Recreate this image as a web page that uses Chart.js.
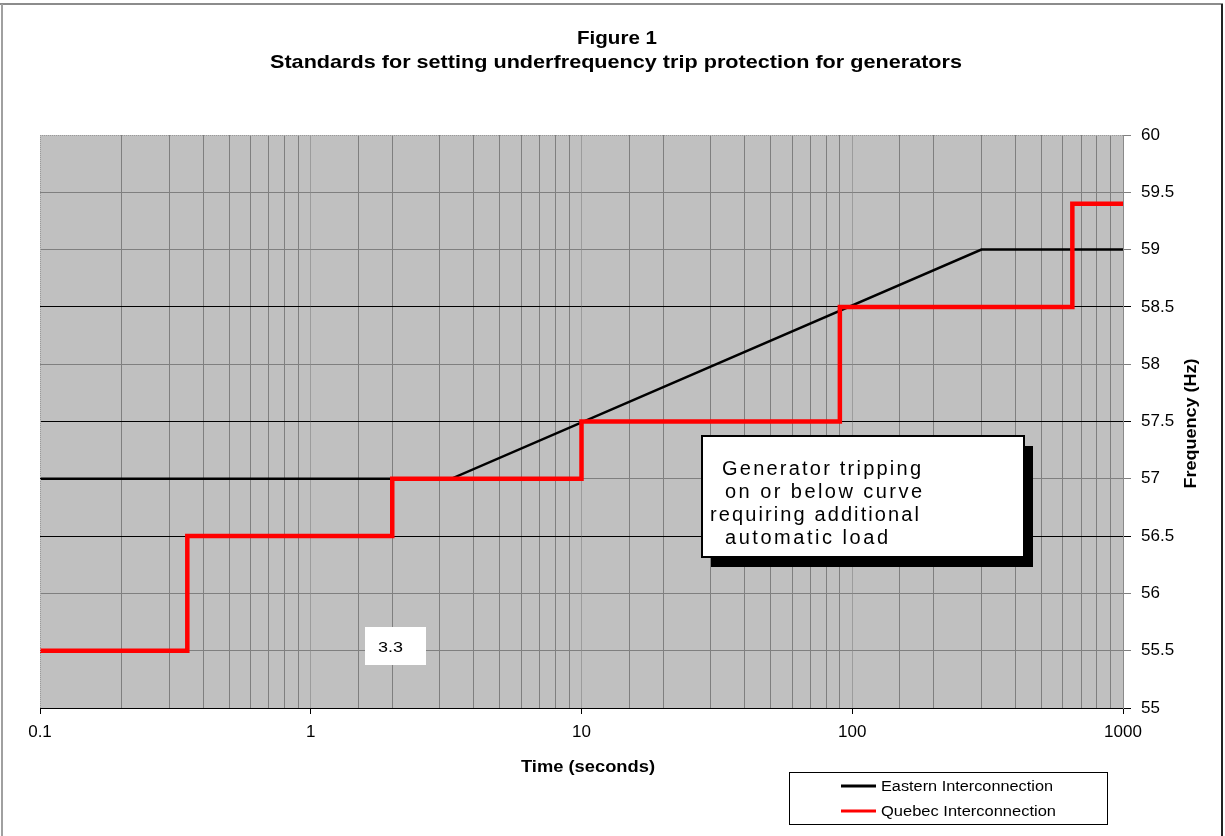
<!DOCTYPE html>
<html><head><meta charset="utf-8">
<script src="https://cdn.jsdelivr.net/npm/chart.js@4.4.0/dist/chart.umd.min.js"></script>
<style>html,body{margin:0;padding:0;background:#fff}#wrap{position:relative;width:1225px;height:836px}</style>
</head><body><div id="wrap"><canvas id="c"></canvas></div>
<script>
// ---- data ----
const titleLines = ['Figure 1', 'Standards for setting underfrequency trip protection for generators'];
const xTitle = 'Time (seconds)';
const yTitle = 'Frequency (Hz)';
const seriesNames = ['Eastern Interconnection', 'Quebec Interconnection'];
const easternTime = [0.1, 3.3, 300, 1000];
const easternFreq = [57, 57, 59, 59];
const quebecTime = [0.1, 0.35, 2, 10, 90, 650, 1000];
const quebecFreq = [55.5, 56.5, 57, 57.5, 58.5, 59.4, 59.4];
const xTickLabels = ['0.1', '1', '10', '100', '1000'];
const noteLines = ['Generator tripping', 'on or below curve', 'requiring additional', 'automatic load'];
const markerLabel = '3.3';

const FONT = '"Liberation Sans", Arial, sans-serif';

function drawFit(ctx, text, x, y, targetW, size, weight, align) {
  ctx.save();
  ctx.font = (weight || '') + ' ' + size + 'px ' + FONT;
  ctx.textBaseline = 'alphabetic';
  ctx.textAlign = 'left';
  const w = ctx.measureText(text).width;
  const sx = targetW / w;
  let x0 = x;
  if (align === 'center') x0 = x - targetW / 2;
  ctx.translate(x0, y);
  ctx.scale(sx, 1);
  ctx.fillText(text, 0, 0);
  ctx.restore();
}
function drawSpaced(ctx, text, x, y, targetW, size) {
  ctx.save();
  ctx.font = size + 'px ' + FONT;
  ctx.textBaseline = 'alphabetic';
  const w = ctx.measureText(text).width;
  const n = text.length;
  const extra = (targetW - w) / (n - 1);
  let cx = x;
  for (const ch of text) {
    ctx.fillText(ch, cx, y);
    cx += ctx.measureText(ch).width + extra;
  }
  ctx.restore();
}

const isDecade = v => { const e = Math.log10(v); return Math.abs(e - Math.round(e)) < 1e-6; };

const deco = {
  id: 'deco',
  beforeDraw(chart) {
    const { ctx, chartArea: a } = chart;
    ctx.save();
    ctx.fillStyle = '#ffffff';
    ctx.fillRect(0, 0, chart.width, chart.height);
    ctx.fillStyle = '#C0C0C0';
    ctx.fillRect(a.left, a.top, a.right - a.left, a.bottom - a.top);
    ctx.restore();
  },
  afterDraw(chart) {
    const { ctx, chartArea: a } = chart;
    ctx.save();
    // outer frame
    ctx.lineWidth = 2;
    ctx.strokeStyle = '#8c8c8c';
    ctx.beginPath(); ctx.moveTo(0, 4); ctx.lineTo(1223, 4); ctx.stroke();
    ctx.strokeStyle = '#a0a0a0';
    ctx.beginPath(); ctx.moveTo(2, 4); ctx.lineTo(2, 836); ctx.stroke();
    ctx.strokeStyle = '#222';
    ctx.beginPath(); ctx.moveTo(1222, 4); ctx.lineTo(1222, 836); ctx.stroke();
    // dotted plot borders
    ctx.lineWidth = 1;
    ctx.strokeStyle = '#9a9a9a';
    ctx.setLineDash([1, 1]);
    ctx.beginPath(); ctx.moveTo(a.left, a.top + 0.5); ctx.lineTo(a.right, a.top + 0.5); ctx.stroke();
    ctx.beginPath(); ctx.moveTo(a.left + 0.5, a.top); ctx.lineTo(a.left + 0.5, a.bottom); ctx.stroke();
    ctx.setLineDash([]);
    ctx.fillStyle = '#000';
    // titles
    drawFit(ctx, titleLines[0], 617, 44, 80, 19, 'bold', 'center');
    drawFit(ctx, titleLines[1], 616, 68, 692, 19, 'bold', 'center');
    // axis titles
    drawFit(ctx, xTitle, 588, 772, 134, 16, 'bold', 'center');
    ctx.save();
    ctx.translate(1196, (a.top + a.bottom) / 2 + 2);
    ctx.rotate(-Math.PI / 2);
    drawFit(ctx, yTitle, 0, 0, 130, 16, 'bold', 'center');
    ctx.restore();
    // legend
    ctx.fillStyle = '#fff';
    ctx.fillRect(789, 772, 318, 52);
    ctx.strokeStyle = '#000';
    ctx.lineWidth = 1;
    ctx.strokeRect(789.5, 772.5, 318, 52);
    const lcol = ['#000000', '#FF0000'];
    const ly = [786, 811];
    for (let i = 0; i < 2; i++) {
      ctx.strokeStyle = lcol[i]; ctx.lineWidth = 3;
      ctx.beginPath(); ctx.moveTo(841, ly[i]); ctx.lineTo(876, ly[i]); ctx.stroke();
      ctx.fillStyle = '#000';
      drawFit(ctx, seriesNames[i], 881, ly[i] + 5, i === 0 ? 172 : 175, 14, '', 'left');
    }
    // annotation box with shadow
    const bx = 702, by = 436, bw = 322, bh = 121;
    ctx.fillStyle = '#000';
    ctx.fillRect(bx + 9, by + 10, bw, bh);
    ctx.fillStyle = '#fff';
    ctx.fillRect(bx, by, bw, bh);
    ctx.strokeStyle = '#000'; ctx.lineWidth = 2;
    ctx.strokeRect(bx, by, bw, bh);
    ctx.fillStyle = '#000';
    const nx = [722, 725, 710, 725], nw = [199, 197, 209, 163], nb = [475, 498, 521, 544];
    for (let i = 0; i < noteLines.length; i++) drawSpaced(ctx, noteLines[i], nx[i], nb[i], nw[i], 20);
    // 3.3 marker label box
    ctx.fillStyle = '#fff';
    ctx.fillRect(365, 627, 61, 38);
    ctx.fillStyle = '#000';
    drawFit(ctx, markerLabel, 378, 652, 25, 14, '', 'left');
    ctx.restore();
  }
};

new Chart(document.getElementById('c'), {
  type: 'line',
  data: {
    datasets: [
      { label: seriesNames[0], data: easternTime.map((t, i) => ({ x: t, y: easternFreq[i] })),
        borderColor: '#000000', borderWidth: 2.5, pointRadius: 0, tension: 0, order: 2,
        borderJoinStyle: 'miter', borderCapStyle: 'butt' },
      { label: seriesNames[1], data: quebecTime.map((t, i) => ({ x: t, y: quebecFreq[i] })),
        borderColor: '#FF0000', borderWidth: 4.5, pointRadius: 0, stepped: true, order: 1,
        borderJoinStyle: 'miter', borderCapStyle: 'butt' }
    ]
  },
  options: {
    responsive: true, maintainAspectRatio: false, animation: false,
    layout: { padding: { left: 40, top: 135, right: 0, bottom: 0 } },
    plugins: { legend: { display: false }, title: { display: false }, tooltip: { enabled: false } },
    scales: {
      x: {
        type: 'logarithmic', position: 'bottom', min: 0.1, max: 1000,
        afterFit(s) { s.height = 128; },
        border: { color: '#000', width: 1 },
        grid: {
          lineWidth: 1, tickLength: 6,
          color: c => { const v = c.tick && c.tick.value; if (v === undefined) return '#808080'; if (Math.abs(v - 0.1) < 1e-9) return 'rgba(0,0,0,0)'; return isDecade(v) ? '#9c9c9c' : '#7f7f7f'; },
          tickColor: c => (c.tick && isDecade(c.tick.value)) ? '#000' : 'rgba(0,0,0,0)'
        },
        ticks: {
          autoSkip: false, maxRotation: 0, minRotation: 0, padding: 8, color: '#000',
          font: { family: FONT, size: 17 },
          callback(v) { if (!isDecade(v)) return ''; const e = Math.round(Math.log10(v)); return xTickLabels[e + 1]; }
        }
      },
      y: {
        type: 'linear', position: 'right', min: 55, max: 60,
        afterFit(s) { s.width = 102; },
        border: { color: '#8a8a8a', width: 1 },
        grid: {
          lineWidth: 1, tickLength: 8,
          color: c => { const v = c.tick && c.tick.value; if (v === 60) return 'rgba(0,0,0,0)'; if (v === 56.5 || v === 57.5 || v === 58.5) return '#000'; return '#7f7f7f'; },
          tickColor: c => { const v = c.tick && c.tick.value; return (v === 56.5 || v === 57.5 || v === 58.5 || v === 55) ? '#000' : '#7f7f7f'; }
        },
        ticks: {
          stepSize: 0.5, padding: 10, color: '#000', font: { family: FONT, size: 17 },
          callback(v) { return String(Math.round(v * 10) / 10); }
        }
      }
    }
  },
  plugins: [deco]
});
</script>
</body></html>
